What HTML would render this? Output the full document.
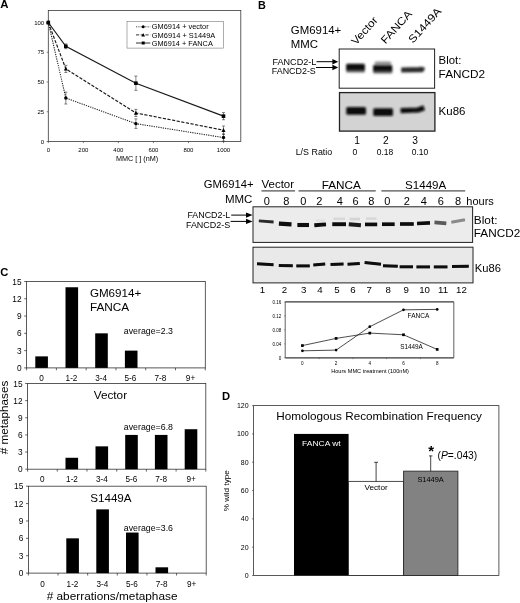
<!DOCTYPE html>
<html lang="en"><head><meta charset="utf-8"><title>Figure</title>
<style>
html,body{margin:0;padding:0;background:#fff;}
body{width:520px;height:603px;overflow:hidden;}
svg{display:block;font-family:"Liberation Sans",Arial,Helvetica,sans-serif;}
</style></head><body>
<svg width="520" height="603" viewBox="0 0 520 603">
<defs>
<filter id="b1" x="-20%" y="-60%" width="140%" height="220%"><feGaussianBlur stdDeviation="0.8"/></filter>
<filter id="b2" x="-20%" y="-80%" width="140%" height="260%"><feGaussianBlur stdDeviation="0.7"/></filter>
<filter id="soft" x="0" y="0" width="100%" height="100%"><feGaussianBlur stdDeviation="0.38"/></filter>
</defs>
<rect x="0" y="0" width="520" height="603" fill="#fff"/>
<g filter="url(#soft)">

<g id="panelA">
<text x="0.20" y="8.40" font-size="11.4" font-weight="bold">A</text>
<rect x="48.3" y="10.4" width="192.5" height="131.1" fill="none" stroke="#3a3a3a" stroke-width="0.8"/>
<text text-anchor="end" x="44.20" y="143.70" font-size="6">0</text>
<line x1="46.699999999999996" x2="48.3" y1="141.50" y2="141.50" stroke="#333" stroke-width="0.6"/>
<text text-anchor="end" x="44.20" y="113.95" font-size="6">25</text>
<line x1="46.699999999999996" x2="48.3" y1="111.75" y2="111.75" stroke="#333" stroke-width="0.6"/>
<text text-anchor="end" x="44.20" y="84.20" font-size="6">50</text>
<line x1="46.699999999999996" x2="48.3" y1="82.00" y2="82.00" stroke="#333" stroke-width="0.6"/>
<text text-anchor="end" x="44.20" y="54.45" font-size="6">75</text>
<line x1="46.699999999999996" x2="48.3" y1="52.25" y2="52.25" stroke="#333" stroke-width="0.6"/>
<text text-anchor="end" x="44.20" y="24.70" font-size="6">100</text>
<line x1="46.699999999999996" x2="48.3" y1="22.50" y2="22.50" stroke="#333" stroke-width="0.6"/>
<text x="48.30" y="152.30" font-size="6" text-anchor="middle">0</text>
<line x1="48.30" x2="48.30" y1="141.5" y2="143.1" stroke="#333" stroke-width="0.6"/>
<text x="83.34" y="152.30" font-size="6" text-anchor="middle">200</text>
<line x1="83.34" x2="83.34" y1="141.5" y2="143.1" stroke="#333" stroke-width="0.6"/>
<text x="118.38" y="152.30" font-size="6" text-anchor="middle">400</text>
<line x1="118.38" x2="118.38" y1="141.5" y2="143.1" stroke="#333" stroke-width="0.6"/>
<text x="153.42" y="152.30" font-size="6" text-anchor="middle">600</text>
<line x1="153.42" x2="153.42" y1="141.5" y2="143.1" stroke="#333" stroke-width="0.6"/>
<text x="188.46" y="152.30" font-size="6" text-anchor="middle">800</text>
<line x1="188.46" x2="188.46" y1="141.5" y2="143.1" stroke="#333" stroke-width="0.6"/>
<text x="223.50" y="152.30" font-size="6" text-anchor="middle">1000</text>
<line x1="223.50" x2="223.50" y1="141.5" y2="143.1" stroke="#333" stroke-width="0.6"/>
<text x="115.90" y="161.30" font-size="7" textLength="42.3" lengthAdjust="spacingAndGlyphs">MMC [ ] (nM)</text>
<polyline points="48.30,22.50 65.82,46.30 135.90,83.19 223.50,116.15" fill="none" stroke="#1a1a1a" stroke-width="1.15"/>
<rect x="46.50" y="20.70" width="3.60" height="3.60" fill="#000"/>
<path d="M65.82 43.92V48.68M64.32 43.92h3M64.32 48.68h3" stroke="#333" stroke-width="0.6" fill="none"/>
<rect x="64.02" y="44.50" width="3.60" height="3.60" fill="#000"/>
<path d="M135.90 76.05V90.33M134.40 76.05h3M134.40 90.33h3" stroke="#333" stroke-width="0.6" fill="none"/>
<rect x="134.10" y="81.39" width="3.60" height="3.60" fill="#000"/>
<path d="M223.50 112.58V119.72M222.00 112.58h3M222.00 119.72h3" stroke="#333" stroke-width="0.6" fill="none"/>
<rect x="221.70" y="114.35" width="3.60" height="3.60" fill="#000"/>
<polyline points="48.30,22.50 65.82,68.91 135.90,112.94 223.50,130.19" fill="none" stroke="#1a1a1a" stroke-width="1.15" stroke-dasharray="3.2,1.5"/>
<path d="M48.30 20.40 L50.30 24.20 L46.30 24.20Z" fill="#000"/>
<path d="M65.82 65.34V72.48M64.32 65.34h3M64.32 72.48h3" stroke="#333" stroke-width="0.6" fill="none"/>
<path d="M65.82 66.81 L67.82 70.61 L63.82 70.61Z" fill="#000"/>
<path d="M135.90 109.37V116.51M134.40 109.37h3M134.40 116.51h3" stroke="#333" stroke-width="0.6" fill="none"/>
<path d="M135.90 110.84 L137.90 114.64 L133.90 114.64Z" fill="#000"/>
<path d="M223.50 126.03V134.36M222.00 126.03h3M222.00 134.36h3" stroke="#333" stroke-width="0.6" fill="none"/>
<path d="M223.50 128.09 L225.50 131.89 L221.50 131.89Z" fill="#000"/>
<polyline points="48.30,22.50 65.82,98.06 135.90,123.65 223.50,137.57" fill="none" stroke="#1a1a1a" stroke-width="1.05" stroke-dasharray="1.2,1.1"/>
<circle cx="48.30" cy="22.50" r="1.70" fill="#000"/>
<path d="M65.82 92.12V104.02M64.32 92.12h3M64.32 104.02h3" stroke="#333" stroke-width="0.6" fill="none"/>
<circle cx="65.82" cy="98.06" r="1.70" fill="#000"/>
<path d="M135.90 118.89V128.41M134.40 118.89h3M134.40 128.41h3" stroke="#333" stroke-width="0.6" fill="none"/>
<circle cx="135.90" cy="123.65" r="1.70" fill="#000"/>
<path d="M223.50 134.00V141.14M222.00 134.00h3M222.00 141.14h3" stroke="#333" stroke-width="0.6" fill="none"/>
<circle cx="223.50" cy="137.57" r="1.70" fill="#000"/>
<rect x="127" y="21.6" width="96.6" height="26.5" fill="#fff" stroke="#777" stroke-width="0.6"/>
<line x1="136" x2="150.3" y1="26.8" y2="26.8" stroke="#1a1a1a" stroke-width="0.80" stroke-dasharray="1.2,1.1"/>
<circle cx="143.20" cy="26.80" r="1.50" fill="#000"/>
<text x="151.80" y="29.40" font-size="7.3" textLength="56.8" lengthAdjust="spacingAndGlyphs">GM6914 + vector</text>
<line x1="136" x2="150.3" y1="34.9" y2="34.9" stroke="#1a1a1a" stroke-width="0.90" stroke-dasharray="3.2,1.5"/>
<path d="M143.20 33.00 L145.00 36.40 L141.40 36.40Z" fill="#000"/>
<text x="151.80" y="37.50" font-size="7.3" textLength="63.5" lengthAdjust="spacingAndGlyphs">GM6914 + S1449A</text>
<line x1="136" x2="150.3" y1="43" y2="43" stroke="#1a1a1a" stroke-width="0.90"/>
<rect x="141.70" y="41.50" width="3.00" height="3.00" fill="#000"/>
<text x="151.80" y="45.60" font-size="7.3" textLength="61" lengthAdjust="spacingAndGlyphs">GM6914 + FANCA</text>
</g>
<g id="panelB">
<text x="257.90" y="8.80" font-size="10.8" font-weight="bold">B</text>
<text x="290.80" y="34.20" font-size="10.7" textLength="50.5" lengthAdjust="spacingAndGlyphs">GM6914+</text>
<text x="290.80" y="48.20" font-size="10.7" textLength="27.2" lengthAdjust="spacingAndGlyphs">MMC</text>
<text transform="translate(356,45.5) rotate(-48)" font-size="10.8" textLength="33.4" lengthAdjust="spacingAndGlyphs">Vector</text>
<text transform="translate(385.5,44.6) rotate(-48)" font-size="10.8" textLength="40.5" lengthAdjust="spacingAndGlyphs">FANCA</text>
<text transform="translate(413,43.8) rotate(-48)" font-size="10.8" textLength="43" lengthAdjust="spacingAndGlyphs">S1449A</text>
<rect x="339.2" y="49" width="95.4" height="39.2" fill="#fff" stroke="#222" stroke-width="1"/>
<rect x="339.5" y="92.6" width="95.4" height="38.5" fill="#d3d3d3" stroke="#222" stroke-width="1.3"/>
<g filter="url(#b1)">
<rect x="346" y="66" width="19" height="6.6" rx="1.5" fill="#6a6a6a"/>
<rect x="373" y="67" width="19.4" height="6.6" rx="1.5" fill="#6a6a6a"/>
<rect x="346.2" y="63.8" width="18.6" height="6.6" rx="1.2" fill="#080808"/>
<rect x="373.2" y="64.8" width="19" height="6.8" rx="1.2" fill="#080808"/>
<rect x="374.6" y="61.4" width="16.6" height="3.4" rx="1.5" fill="#909090"/>
<path d="M401.2 70 L421.8 69.6 L422.3 67" fill="none" stroke="#2a2a2a" stroke-width="5.2" stroke-linejoin="round"/>
<rect x="346.2" y="107" width="19.8" height="7.8" rx="1.5" fill="#0a0a0a"/>
<rect x="373.2" y="108.2" width="19.8" height="7.8" rx="1.5" fill="#0a0a0a"/>
<path d="M400.6 110.6 L418 110 L424.2 107.8" fill="none" stroke="#0a0a0a" stroke-width="5.2" stroke-linejoin="round"/>
</g>
<text x="438.60" y="63.70" font-size="10.9" textLength="22.8" lengthAdjust="spacingAndGlyphs">Blot:</text>
<text x="438.60" y="78.10" font-size="10.9" textLength="46.5" lengthAdjust="spacingAndGlyphs">FANCD2</text>
<text x="438.60" y="115.10" font-size="10.9" textLength="26.8" lengthAdjust="spacingAndGlyphs">Ku86</text>
<text x="272.50" y="64.60" font-size="8.6" textLength="43.8" lengthAdjust="spacingAndGlyphs">FANCD2-L</text>
<text x="271.80" y="73.60" font-size="8.6" textLength="44" lengthAdjust="spacingAndGlyphs">FANCD2-S</text>
<path d="M316.5 61.7H333" stroke="#000" stroke-width="1"/><path d="M338.2 61.7l-5.8 -2.7v5.4z" fill="#000"/>
<path d="M316 67.5H333" stroke="#000" stroke-width="1"/><path d="M338.2 67.5l-5.8 -2.7v5.4z" fill="#000"/>
<text x="357.00" y="143.60" font-size="10.2" text-anchor="middle">1</text>
<text x="385.80" y="143.60" font-size="10.2" text-anchor="middle">2</text>
<text x="415.00" y="143.60" font-size="10.2" text-anchor="middle">3</text>
<text x="295.70" y="154.70" font-size="8.8" textLength="36.5" lengthAdjust="spacingAndGlyphs">L/S Ratio</text>
<text x="355.00" y="154.80" font-size="8.6" text-anchor="middle">0</text>
<text x="385.00" y="154.80" font-size="8.6" text-anchor="middle" textLength="16.5" lengthAdjust="spacingAndGlyphs">0.18</text>
<text x="420.00" y="154.80" font-size="8.6" text-anchor="middle" textLength="16.5" lengthAdjust="spacingAndGlyphs">0.10</text>
</g>
<g id="panelB2">
<text x="203.80" y="188.20" font-size="10.4" textLength="49.7" lengthAdjust="spacingAndGlyphs">GM6914+</text>
<text x="224.90" y="202.50" font-size="10.4" textLength="27.5" lengthAdjust="spacingAndGlyphs">MMC</text>
<text x="261.50" y="188.20" font-size="10.4" textLength="32.6" lengthAdjust="spacingAndGlyphs">Vector</text>
<text x="321.70" y="188.60" font-size="10.4" textLength="39.2" lengthAdjust="spacingAndGlyphs">FANCA</text>
<text x="405.00" y="188.60" font-size="10.4" textLength="41.3" lengthAdjust="spacingAndGlyphs">S1449A</text>
<path d="M261.5 190.9H295M298.5 190.9H375.7M381.4 190.9H465.2" stroke="#111" stroke-width="0.9"/>
<text x="266.80" y="205.00" font-size="11" text-anchor="middle">0</text>
<text x="286.30" y="205.00" font-size="11" text-anchor="middle">8</text>
<text x="303.30" y="205.00" font-size="11" text-anchor="middle">0</text>
<text x="319.20" y="205.00" font-size="11" text-anchor="middle">2</text>
<text x="339.70" y="205.00" font-size="11" text-anchor="middle">4</text>
<text x="355.60" y="205.00" font-size="11" text-anchor="middle">6</text>
<text x="371.40" y="205.00" font-size="11" text-anchor="middle">8</text>
<text x="387.30" y="205.00" font-size="11" text-anchor="middle">0</text>
<text x="406.80" y="205.00" font-size="11" text-anchor="middle">2</text>
<text x="423.80" y="205.00" font-size="11" text-anchor="middle">4</text>
<text x="440.80" y="205.00" font-size="11" text-anchor="middle">6</text>
<text x="458.00" y="205.00" font-size="11" text-anchor="middle">8</text>
<text x="466.30" y="204.60" font-size="10.8" textLength="27.5" lengthAdjust="spacingAndGlyphs">hours</text>
<rect x="253" y="206.8" width="219.6" height="35.6" fill="#ececec" stroke="#222" stroke-width="1"/>
<rect x="253" y="247.2" width="220" height="35.7" fill="#e9e9e9" stroke="#222" stroke-width="1"/>
<g filter="url(#b2)">
<path d="M258.8 220.8L273.6 222.0" stroke="#2a2a2a" stroke-width="2.8"/>
<path d="M278.9 223.7L291.5 224.3" stroke="#0a0a0a" stroke-width="4.3"/>
<path d="M297.4 225.0L309.0 225.0" stroke="#0a0a0a" stroke-width="4.1"/>
<path d="M314.3 225.2L326.0 224.4" stroke="#111" stroke-width="3.9"/>
<path d="M332.3 224.2L346.0 224.2" stroke="#0a0a0a" stroke-width="3.9"/>
<path d="M348.8 224.3L360.9 225.3" stroke="#1a1a1a" stroke-width="4.1"/>
<path d="M365.0 224.4L377.2 224.4" stroke="#111" stroke-width="3.7"/>
<path d="M382.0 224.2L394.7 224.2" stroke="#111" stroke-width="3.7"/>
<path d="M400.0 224.0L413.8 224.0" stroke="#111" stroke-width="3.7"/>
<path d="M417.0 223.5L430.0 222.9" stroke="#111" stroke-width="3.7"/>
<path d="M434.5 222.3L446.3 223.3" stroke="#5a5a5a" stroke-width="3.7"/>
<path d="M451.3 222.2L465.0 219.8" stroke="#8a8a8a" stroke-width="2.9"/>
<path d="M333.5 218.8H345" stroke="#d8d8d8" stroke-width="2.6"/>
<path d="M349.5 219H360" stroke="#d4d4d4" stroke-width="2.6"/>
<path d="M366 218.6H376.5" stroke="#d8d8d8" stroke-width="2.6"/>
<path d="M316 220.6H325" stroke="#e2e2e2" stroke-width="2.6"/>
<path d="M257.0 263.8L273.6 264.8" stroke="#080808" stroke-width="3.0"/>
<path d="M278.8 265.4L292.8 265.8" stroke="#080808" stroke-width="3.0"/>
<path d="M296.3 265.9L309.8 265.9" stroke="#080808" stroke-width="3.0"/>
<path d="M313.3 265.1L325.2 264.1" stroke="#080808" stroke-width="3.0"/>
<path d="M330.5 264.6L343.6 264.0" stroke="#080808" stroke-width="3.0"/>
<path d="M347.5 264.2L359.8 263.4" stroke="#080808" stroke-width="3.0"/>
<path d="M364.6 262.5L381.0 264.3" stroke="#080808" stroke-width="3.0"/>
<path d="M383.0 265.7L397.8 266.3" stroke="#080808" stroke-width="3.0"/>
<path d="M399.6 266.8L413.0 266.8" stroke="#080808" stroke-width="3.0"/>
<path d="M416.4 266.9L430.0 266.9" stroke="#080808" stroke-width="3.0"/>
<path d="M433.8 266.9L447.5 266.9" stroke="#080808" stroke-width="3.0"/>
<path d="M452.0 266.6L468.8 266.2" stroke="#080808" stroke-width="3.0"/>
</g>
<text x="473.80" y="223.80" font-size="11.3" textLength="23.7" lengthAdjust="spacingAndGlyphs">Blot:</text>
<text x="473.80" y="237.20" font-size="11.3" textLength="46.4" lengthAdjust="spacingAndGlyphs">FANCD2</text>
<text x="474.80" y="271.70" font-size="10.8" textLength="26.1" lengthAdjust="spacingAndGlyphs">Ku86</text>
<text x="187.40" y="217.80" font-size="8.5" textLength="42.9" lengthAdjust="spacingAndGlyphs">FANCD2-L</text>
<text x="185.90" y="227.50" font-size="8.5" textLength="44.4" lengthAdjust="spacingAndGlyphs">FANCD2-S</text>
<path d="M231.2 215.1H247" stroke="#000" stroke-width="1"/><path d="M252.6 215.1l-6.6 -2.6v5.2z" fill="#000"/>
<path d="M230.6 221.4H247" stroke="#000" stroke-width="1"/><path d="M252.6 221.4l-6.6 -2.6v5.2z" fill="#000"/>
<text x="262.50" y="293.30" font-size="9.7" text-anchor="middle">1</text>
<text x="284.50" y="293.30" font-size="9.7" text-anchor="middle">2</text>
<text x="303.80" y="293.30" font-size="9.7" text-anchor="middle">3</text>
<text x="320.00" y="293.30" font-size="9.7" text-anchor="middle">4</text>
<text x="337.00" y="293.30" font-size="9.7" text-anchor="middle">5</text>
<text x="353.00" y="293.30" font-size="9.7" text-anchor="middle">6</text>
<text x="369.20" y="293.30" font-size="9.7" text-anchor="middle">7</text>
<text x="388.30" y="293.30" font-size="9.7" text-anchor="middle">8</text>
<text x="406.20" y="293.30" font-size="9.7" text-anchor="middle">9</text>
<text x="424.60" y="293.30" font-size="9.7" text-anchor="middle">10</text>
<text x="443.00" y="293.30" font-size="9.7" text-anchor="middle">11</text>
<text x="461.50" y="293.30" font-size="9.7" text-anchor="middle">12</text>
</g>
<g id="lineg">
<path d="M285.2 301.9H453.8M285.2 357.8H453.8" stroke="#3a3a3a" stroke-width="1.2" fill="none"/>
<path d="M285.2 301.9V357.8M453.8 301.9V357.8" stroke="#3a3a3a" stroke-width="0.8" fill="none"/>
<text x="281.30" y="359.80" font-size="4.6" text-anchor="end">0</text>
<line x1="284.2" x2="285.2" y1="357.80" y2="357.80" stroke="#333" stroke-width="0.5"/>
<text x="281.30" y="345.82" font-size="4.6" text-anchor="end" textLength="8.8" lengthAdjust="spacingAndGlyphs">0.04</text>
<line x1="284.2" x2="285.2" y1="343.82" y2="343.82" stroke="#333" stroke-width="0.5"/>
<text x="281.30" y="331.85" font-size="4.6" text-anchor="end" textLength="8.8" lengthAdjust="spacingAndGlyphs">0.08</text>
<line x1="284.2" x2="285.2" y1="329.85" y2="329.85" stroke="#333" stroke-width="0.5"/>
<text x="281.30" y="317.88" font-size="4.6" text-anchor="end" textLength="8.8" lengthAdjust="spacingAndGlyphs">0.12</text>
<line x1="284.2" x2="285.2" y1="315.88" y2="315.88" stroke="#333" stroke-width="0.5"/>
<text x="281.30" y="303.90" font-size="4.6" text-anchor="end" textLength="8.8" lengthAdjust="spacingAndGlyphs">0.16</text>
<line x1="284.2" x2="285.2" y1="301.90" y2="301.90" stroke="#333" stroke-width="0.5"/>
<text x="302.40" y="364.90" font-size="4.6" text-anchor="middle">0</text>
<text x="336.10" y="364.90" font-size="4.6" text-anchor="middle">2</text>
<text x="369.80" y="364.90" font-size="4.6" text-anchor="middle">4</text>
<text x="403.50" y="364.90" font-size="4.6" text-anchor="middle">6</text>
<text x="437.20" y="364.90" font-size="4.6" text-anchor="middle">8</text>
<line x1="319.2" x2="319.2" y1="357.8" y2="359.1" stroke="#333" stroke-width="0.5"/>
<line x1="352.9" x2="352.9" y1="357.8" y2="359.1" stroke="#333" stroke-width="0.5"/>
<line x1="386.6" x2="386.6" y1="357.8" y2="359.1" stroke="#333" stroke-width="0.5"/>
<line x1="420.4" x2="420.4" y1="357.8" y2="359.1" stroke="#333" stroke-width="0.5"/>
<text x="331.20" y="373.20" font-size="5.2" textLength="77.8" lengthAdjust="spacingAndGlyphs">Hours MMC treatment (100nM)</text>
<polyline points="302.40,350.81 336.10,350.11 369.80,326.71 403.50,309.80 437.20,309.38" fill="none" stroke="#151515" stroke-width="0.75"/>
<circle cx="302.40" cy="350.81" r="1.35" fill="#000"/>
<circle cx="336.10" cy="350.11" r="1.35" fill="#000"/>
<circle cx="369.80" cy="326.71" r="1.35" fill="#000"/>
<circle cx="403.50" cy="309.80" r="1.35" fill="#000"/>
<circle cx="437.20" cy="309.38" r="1.35" fill="#000"/>
<polyline points="302.40,345.57 336.10,338.41 369.80,333.10 403.50,334.78 437.20,349.42" fill="none" stroke="#151515" stroke-width="0.75"/>
<rect x="301.05" y="344.22" width="2.70" height="2.70" fill="#000"/>
<rect x="334.75" y="337.06" width="2.70" height="2.70" fill="#000"/>
<rect x="368.45" y="331.75" width="2.70" height="2.70" fill="#000"/>
<rect x="402.15" y="333.43" width="2.70" height="2.70" fill="#000"/>
<rect x="435.85" y="348.06" width="2.70" height="2.70" fill="#000"/>
<text x="407.60" y="317.80" font-size="6.3" textLength="21.8" lengthAdjust="spacingAndGlyphs">FANCA</text>
<text x="400.20" y="349.10" font-size="6.3" textLength="22.6" lengthAdjust="spacingAndGlyphs">S1449A</text>
</g>
<g id="panelC">
<text x="0.30" y="276.40" font-size="11.2" font-weight="bold">C</text>
<rect x="26.6" y="281.5" width="178.7" height="86.4" fill="#fff" stroke="#333" stroke-width="0.8"/>
<text x="21.50" y="370.90" font-size="8.3" text-anchor="end">0</text>
<line x1="24.2" x2="26.6" y1="367.90" y2="367.90" stroke="#222" stroke-width="0.7"/>
<text x="21.50" y="353.62" font-size="8.3" text-anchor="end">3</text>
<line x1="24.2" x2="26.6" y1="350.62" y2="350.62" stroke="#222" stroke-width="0.7"/>
<text x="21.50" y="336.34" font-size="8.3" text-anchor="end">6</text>
<line x1="24.2" x2="26.6" y1="333.34" y2="333.34" stroke="#222" stroke-width="0.7"/>
<text x="21.50" y="319.06" font-size="8.3" text-anchor="end">9</text>
<line x1="24.2" x2="26.6" y1="316.06" y2="316.06" stroke="#222" stroke-width="0.7"/>
<text x="21.50" y="301.78" font-size="8.3" text-anchor="end">12</text>
<line x1="24.2" x2="26.6" y1="298.78" y2="298.78" stroke="#222" stroke-width="0.7"/>
<text x="21.50" y="284.50" font-size="8.3" text-anchor="end">15</text>
<line x1="24.2" x2="26.6" y1="281.50" y2="281.50" stroke="#222" stroke-width="0.7"/>
<line x1="26.60" x2="26.60" y1="367.9" y2="370.29999999999995" stroke="#222" stroke-width="0.7"/>
<line x1="56.38" x2="56.38" y1="367.9" y2="370.29999999999995" stroke="#222" stroke-width="0.7"/>
<line x1="86.17" x2="86.17" y1="367.9" y2="370.29999999999995" stroke="#222" stroke-width="0.7"/>
<line x1="115.95" x2="115.95" y1="367.9" y2="370.29999999999995" stroke="#222" stroke-width="0.7"/>
<line x1="145.73" x2="145.73" y1="367.9" y2="370.29999999999995" stroke="#222" stroke-width="0.7"/>
<line x1="175.52" x2="175.52" y1="367.9" y2="370.29999999999995" stroke="#222" stroke-width="0.7"/>
<line x1="205.30" x2="205.30" y1="367.9" y2="370.29999999999995" stroke="#222" stroke-width="0.7"/>
<rect x="35.30" y="356.38" width="12.6" height="11.52" fill="#000"/>
<rect x="65.50" y="287.26" width="12.6" height="80.64" fill="#000"/>
<rect x="95.20" y="333.34" width="12.6" height="34.56" fill="#000"/>
<rect x="124.90" y="350.62" width="12.6" height="17.28" fill="#000"/>
<text x="41.60" y="380.90" font-size="8.2" text-anchor="middle">0</text>
<text x="71.50" y="380.90" font-size="8.2" text-anchor="middle">1-2</text>
<text x="101.10" y="380.90" font-size="8.2" text-anchor="middle">3-4</text>
<text x="130.30" y="380.90" font-size="8.2" text-anchor="middle">5-6</text>
<text x="160.30" y="380.90" font-size="8.2" text-anchor="middle">7-8</text>
<text x="190.50" y="380.90" font-size="8.2" text-anchor="middle">9+</text>
<text x="89.90" y="296.90" font-size="10.9" textLength="51.4" lengthAdjust="spacingAndGlyphs">GM6914+</text>
<text x="89.90" y="311.10" font-size="10.9" textLength="39.3" lengthAdjust="spacingAndGlyphs">FANCA</text>
<text x="123.80" y="334.30" font-size="8.2" textLength="49.2" lengthAdjust="spacingAndGlyphs">average=2.3</text>
<rect x="27.6" y="383.5" width="178.2" height="85.7" fill="#fff" stroke="#333" stroke-width="0.8"/>
<text x="22.50" y="472.20" font-size="8.3" text-anchor="end">0</text>
<line x1="25.2" x2="27.6" y1="469.20" y2="469.20" stroke="#222" stroke-width="0.7"/>
<text x="22.50" y="455.06" font-size="8.3" text-anchor="end">3</text>
<line x1="25.2" x2="27.6" y1="452.06" y2="452.06" stroke="#222" stroke-width="0.7"/>
<text x="22.50" y="437.92" font-size="8.3" text-anchor="end">6</text>
<line x1="25.2" x2="27.6" y1="434.92" y2="434.92" stroke="#222" stroke-width="0.7"/>
<text x="22.50" y="420.78" font-size="8.3" text-anchor="end">9</text>
<line x1="25.2" x2="27.6" y1="417.78" y2="417.78" stroke="#222" stroke-width="0.7"/>
<text x="22.50" y="403.64" font-size="8.3" text-anchor="end">12</text>
<line x1="25.2" x2="27.6" y1="400.64" y2="400.64" stroke="#222" stroke-width="0.7"/>
<text x="22.50" y="386.50" font-size="8.3" text-anchor="end">15</text>
<line x1="25.2" x2="27.6" y1="383.50" y2="383.50" stroke="#222" stroke-width="0.7"/>
<line x1="27.60" x2="27.60" y1="469.2" y2="471.59999999999997" stroke="#222" stroke-width="0.7"/>
<line x1="57.30" x2="57.30" y1="469.2" y2="471.59999999999997" stroke="#222" stroke-width="0.7"/>
<line x1="87.00" x2="87.00" y1="469.2" y2="471.59999999999997" stroke="#222" stroke-width="0.7"/>
<line x1="116.70" x2="116.70" y1="469.2" y2="471.59999999999997" stroke="#222" stroke-width="0.7"/>
<line x1="146.40" x2="146.40" y1="469.2" y2="471.59999999999997" stroke="#222" stroke-width="0.7"/>
<line x1="176.10" x2="176.10" y1="469.2" y2="471.59999999999997" stroke="#222" stroke-width="0.7"/>
<line x1="205.80" x2="205.80" y1="469.2" y2="471.59999999999997" stroke="#222" stroke-width="0.7"/>
<rect x="65.50" y="457.77" width="12.6" height="11.43" fill="#000"/>
<rect x="95.50" y="446.35" width="12.6" height="22.85" fill="#000"/>
<rect x="125.20" y="434.92" width="12.6" height="34.28" fill="#000"/>
<rect x="154.90" y="434.92" width="12.6" height="34.28" fill="#000"/>
<rect x="184.70" y="429.21" width="12.6" height="39.99" fill="#000"/>
<text x="42.20" y="482.40" font-size="8.2" text-anchor="middle">0</text>
<text x="72.00" y="482.40" font-size="8.2" text-anchor="middle">1-2</text>
<text x="101.80" y="482.40" font-size="8.2" text-anchor="middle">3-4</text>
<text x="131.40" y="482.40" font-size="8.2" text-anchor="middle">5-6</text>
<text x="161.20" y="482.40" font-size="8.2" text-anchor="middle">7-8</text>
<text x="191.20" y="482.40" font-size="8.2" text-anchor="middle">9+</text>
<text x="93.70" y="399.20" font-size="10.9" textLength="33.4" lengthAdjust="spacingAndGlyphs">Vector</text>
<text x="123.80" y="430.30" font-size="8.2" textLength="49.2" lengthAdjust="spacingAndGlyphs">average=6.8</text>
<rect x="28.4" y="486.2" width="177.8" height="86.9" fill="#fff" stroke="#333" stroke-width="0.8"/>
<text x="23.30" y="576.10" font-size="8.3" text-anchor="end">0</text>
<line x1="26.0" x2="28.4" y1="573.10" y2="573.10" stroke="#222" stroke-width="0.7"/>
<text x="23.30" y="558.72" font-size="8.3" text-anchor="end">3</text>
<line x1="26.0" x2="28.4" y1="555.72" y2="555.72" stroke="#222" stroke-width="0.7"/>
<text x="23.30" y="541.34" font-size="8.3" text-anchor="end">6</text>
<line x1="26.0" x2="28.4" y1="538.34" y2="538.34" stroke="#222" stroke-width="0.7"/>
<text x="23.30" y="523.96" font-size="8.3" text-anchor="end">9</text>
<line x1="26.0" x2="28.4" y1="520.96" y2="520.96" stroke="#222" stroke-width="0.7"/>
<text x="23.30" y="506.58" font-size="8.3" text-anchor="end">12</text>
<line x1="26.0" x2="28.4" y1="503.58" y2="503.58" stroke="#222" stroke-width="0.7"/>
<text x="23.30" y="489.20" font-size="8.3" text-anchor="end">15</text>
<line x1="26.0" x2="28.4" y1="486.20" y2="486.20" stroke="#222" stroke-width="0.7"/>
<line x1="28.40" x2="28.40" y1="573.1" y2="575.5" stroke="#222" stroke-width="0.7"/>
<line x1="58.03" x2="58.03" y1="573.1" y2="575.5" stroke="#222" stroke-width="0.7"/>
<line x1="87.67" x2="87.67" y1="573.1" y2="575.5" stroke="#222" stroke-width="0.7"/>
<line x1="117.30" x2="117.30" y1="573.1" y2="575.5" stroke="#222" stroke-width="0.7"/>
<line x1="146.93" x2="146.93" y1="573.1" y2="575.5" stroke="#222" stroke-width="0.7"/>
<line x1="176.57" x2="176.57" y1="573.1" y2="575.5" stroke="#222" stroke-width="0.7"/>
<line x1="206.20" x2="206.20" y1="573.1" y2="575.5" stroke="#222" stroke-width="0.7"/>
<rect x="66.30" y="538.34" width="12.6" height="34.76" fill="#000"/>
<rect x="96.30" y="509.37" width="12.6" height="63.73" fill="#000"/>
<rect x="126.00" y="532.55" width="12.6" height="40.55" fill="#000"/>
<rect x="155.50" y="567.31" width="12.6" height="5.79" fill="#000"/>
<text x="42.50" y="586.50" font-size="8.2" text-anchor="middle">0</text>
<text x="72.50" y="586.50" font-size="8.2" text-anchor="middle">1-2</text>
<text x="102.30" y="586.50" font-size="8.2" text-anchor="middle">3-4</text>
<text x="131.80" y="586.50" font-size="8.2" text-anchor="middle">5-6</text>
<text x="161.60" y="586.50" font-size="8.2" text-anchor="middle">7-8</text>
<text x="191.70" y="586.50" font-size="8.2" text-anchor="middle">9+</text>
<text x="90.20" y="502.00" font-size="10.9" textLength="41.4" lengthAdjust="spacingAndGlyphs">S1449A</text>
<text x="123.80" y="530.60" font-size="8.2" textLength="49.2" lengthAdjust="spacingAndGlyphs">average=3.6</text>
<text x="46.70" y="600.20" font-size="11.4" textLength="130.8" lengthAdjust="spacingAndGlyphs"># aberrations/metaphase</text>
<text transform="translate(7.9,454.3) rotate(-90)" font-size="10.6" textLength="73.6" lengthAdjust="spacingAndGlyphs"># metaphases</text>
</g>
<g id="panelD">
<text x="222.00" y="400.40" font-size="11.2" font-weight="bold">D</text>
<rect x="253.6" y="405.6" width="245.3" height="169.9" fill="#fff" stroke="#333" stroke-width="0.8"/>
<text x="248.60" y="578.00" font-size="7" text-anchor="end">0</text>
<line x1="252.0" x2="253.6" y1="575.50" y2="575.50" stroke="#333" stroke-width="0.6"/>
<text x="248.60" y="549.68" font-size="7" text-anchor="end">20</text>
<line x1="252.0" x2="253.6" y1="547.18" y2="547.18" stroke="#333" stroke-width="0.6"/>
<text x="248.60" y="521.37" font-size="7" text-anchor="end">40</text>
<line x1="252.0" x2="253.6" y1="518.87" y2="518.87" stroke="#333" stroke-width="0.6"/>
<text x="248.60" y="493.05" font-size="7" text-anchor="end">60</text>
<line x1="252.0" x2="253.6" y1="490.55" y2="490.55" stroke="#333" stroke-width="0.6"/>
<text x="248.60" y="464.73" font-size="7" text-anchor="end">80</text>
<line x1="252.0" x2="253.6" y1="462.23" y2="462.23" stroke="#333" stroke-width="0.6"/>
<text x="248.60" y="436.42" font-size="7" text-anchor="end">100</text>
<line x1="252.0" x2="253.6" y1="433.92" y2="433.92" stroke="#333" stroke-width="0.6"/>
<text x="248.60" y="408.10" font-size="7" text-anchor="end">120</text>
<line x1="252.0" x2="253.6" y1="405.60" y2="405.60" stroke="#333" stroke-width="0.6"/>
<rect x="294" y="433.92" width="54.6" height="141.58" fill="#000"/>
<rect x="348.6" y="481.35" width="55" height="94.15" fill="#fff" stroke="#222" stroke-width="0.8"/>
<rect x="403.6" y="471.15" width="54.3" height="104.35" fill="#828282" stroke="#2a2a2a" stroke-width="0.9"/>
<path d="M376.1 481.35V462.3M374.2 462.3h3.8M430.7 471.15V455.9M429 455.9h3.4" stroke="#151515" stroke-width="0.8" fill="none"/>
<text x="276.20" y="419.90" font-size="11.2" textLength="205.7" lengthAdjust="spacingAndGlyphs">Homologous Recombination Frequency</text>
<text x="302.00" y="446.40" font-size="8" fill="#fff" textLength="38.7" lengthAdjust="spacingAndGlyphs">FANCA wt</text>
<text x="364.40" y="489.90" font-size="7.6" textLength="23.3" lengthAdjust="spacingAndGlyphs">Vector</text>
<text x="417.40" y="481.70" font-size="6.6" textLength="26.4" lengthAdjust="spacingAndGlyphs">S1449A</text>
<text x="431.20" y="455.80" font-size="15" text-anchor="middle" font-weight="bold">*</text>
<text x="437.5" y="458.9" font-size="10" textLength="39.8" lengthAdjust="spacingAndGlyphs">(<tspan font-style="italic">P</tspan>=.043)</text>
<text transform="translate(228.8,511.3) rotate(-90)" font-size="7.3" textLength="41" lengthAdjust="spacingAndGlyphs">% wild type</text>
</g>
</g></svg></body></html>
